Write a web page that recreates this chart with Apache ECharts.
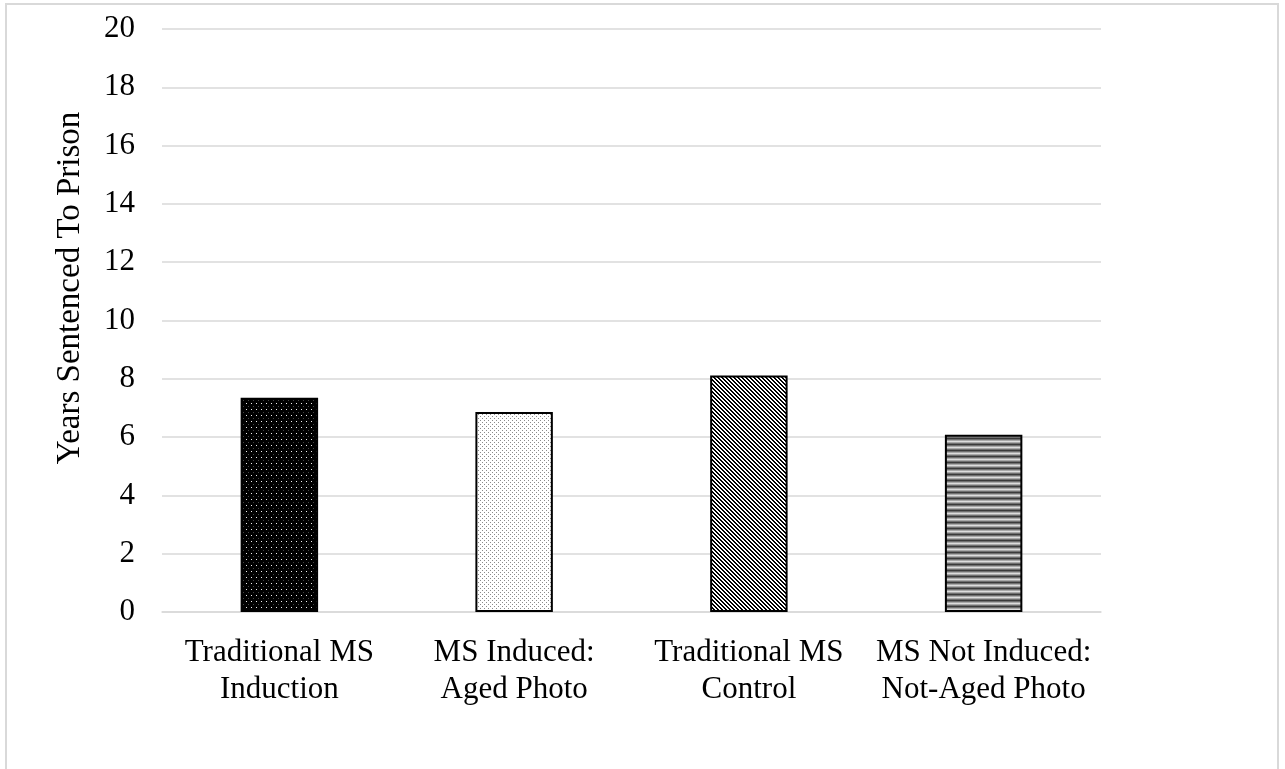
<!DOCTYPE html>
<html>
<head>
<meta charset="utf-8">
<script src="https://cdn.jsdelivr.net/npm/echarts@6/dist/echarts.min.js"></script>
<style>
  html, body { margin: 0; padding: 0; background: #fff; }
  #chart { width: 1285px; height: 769px; }
</style>
</head>
<body>
<div id="chart"></div>
<script>
// 类别与数值
const categories = ['Traditional MS\nInduction', 'MS Induced:\nAged Photo', 'Traditional MS\nControl', 'MS Not Induced:\nNot-Aged Photo']
const years = [7.35, 6.86, 8.11, 6.08]
const yTicks = [0, 2, 4, 6, 8, 10, 12, 14, 16, 18, 20]

const FONT = '"Liberation Serif", "Times New Roman", serif'

// 生成填充图案
function makeTile(w, h, draw) {
  const c = document.createElement('canvas')
  c.width = w
  c.height = h
  const ctx = c.getContext('2d')
  draw(ctx)
  return { image: c, repeat: 'repeat' }
}

// 黑底白点
const darkDots = makeTile(5, 6, (ctx) => {
  ctx.fillStyle = '#000'
  ctx.fillRect(0, 0, 5, 6)
  ctx.fillStyle = '#eee'
  ctx.fillRect(1, 1, 1, 1)
  ctx.fillStyle = '#444'
  ctx.fillRect(3, 4, 1, 1)
})
// 白底灰点
const lightDots = makeTile(4, 4, (ctx) => {
  ctx.fillStyle = '#fff'
  ctx.fillRect(0, 0, 4, 4)
  ctx.fillStyle = '#8a8a8a'
  ctx.fillRect(0, 0, 1, 1)
  ctx.fillRect(2, 2, 1, 1)
})
// 斜线
const diagonal = makeTile(4, 4, (ctx) => {
  ctx.fillStyle = '#fff'
  ctx.fillRect(0, 0, 4, 4)
  ctx.fillStyle = '#000'
  for (let y = 0; y < 4; y++) {
    for (let x = 0; x < 4; x++) {
      const d = (((x - y) % 4) + 4) % 4
      if (d === 0 || d === 1) ctx.fillRect(x, y, 1, 1)
    }
  }
})
// 横条纹
const hStripes = makeTile(1, 6, (ctx) => {
  const rows = ['#3a3a3a', '#6e6e6e', '#a8a8a8', '#dcdcdc', '#a8a8a8', '#6e6e6e']
  rows.forEach((col, i) => {
    ctx.fillStyle = col
    ctx.fillRect(0, i, 1, 1)
  })
})
const patterns = [darkDots, lightDots, diagonal, hStripes]

const chart = echarts.init(document.getElementById('chart'))
const option = {
  backgroundColor: '#fff',
  animation: false,
  grid: {
    left: 162,
    right: 184,
    top: 29,
    bottom: 157
  },
  xAxis: {
    type: 'category',
    data: categories,
    axisLine: { lineStyle: { color: '#d9d9d9', width: 1.5 } },
    axisTick: { show: false },
    axisLabel: {
      color: '#000',
      fontFamily: FONT,
      fontSize: 31,
      lineHeight: 37,
      margin: 22,
      interval: 0
    }
  },
  yAxis: {
    type: 'value',
    min: 0,
    max: 20,
    interval: 2,
    axisLine: { show: false },
    axisTick: { show: false },
    splitLine: { lineStyle: { color: '#d9d9d9', width: 1.5 } },
    axisLabel: {
      color: '#000',
      fontFamily: FONT,
      fontSize: 31,
      margin: 27,
      formatter: (v) => (yTicks.includes(v) ? String(v) : '')
    }
  },
  graphic: [
    {
      type: 'rect',
      shape: { x: 6, y: 4, width: 1272, height: 820 },
      style: { fill: 'none', stroke: '#d9d9d9', lineWidth: 2 },
      silent: true
    },
    {
      type: 'text',
      x: 70,
      y: 288,
      rotation: Math.PI / 2,
      style: {
        text: 'Years Sentenced To Prison',
        fontFamily: FONT,
        fontSize: 33,
        fill: '#000',
        align: 'center',
        verticalAlign: 'middle'
      }
    }
  ],
  series: [
    {
      type: 'bar',
      barWidth: '33%',
      data: years.map((v, i) => ({
        value: v,
        itemStyle: { color: patterns[i] }
      })),
      itemStyle: {
        borderColor: '#000',
        borderWidth: 2
      }
    }
  ]
}
chart.setOption(option)
</script>
</body>
</html>
